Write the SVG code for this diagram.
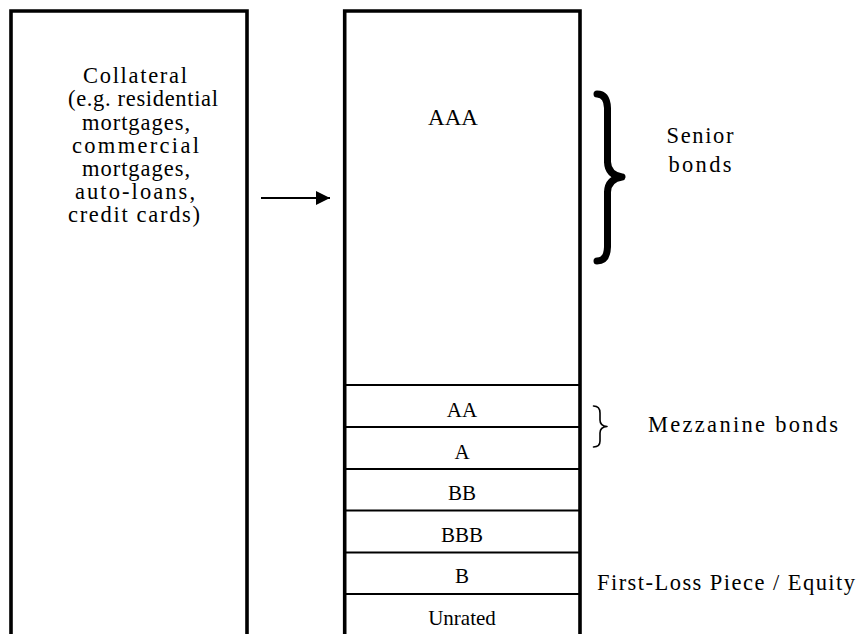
<svg xmlns="http://www.w3.org/2000/svg" width="859" height="634" viewBox="0 0 859 634">
<style>
.frame{fill:none;stroke:#000;stroke-width:3.6}
.tr{stroke:#000;stroke-width:2}
.g{font-family:"Liberation Serif","Times New Roman",serif;font-size:22.5px;fill:#000;text-anchor:middle}
.t{font-family:"Liberation Serif","Times New Roman",serif;font-size:21px;fill:#000;text-anchor:middle}
.br{fill:none;stroke:#000;stroke-linecap:round;stroke-linejoin:round}
</style>
<defs>
<marker id="ah" viewBox="0 0 14 14" refX="14" refY="7" markerWidth="14" markerHeight="14" markerUnits="userSpaceOnUse" orient="auto">
<path d="M0,0 L14,7 L0,14 Z" fill="#000"/>
</marker>
</defs>
<rect width="859" height="634" fill="#fff"/>
<g id="collateral">
<path class="frame" d="M11,640 V11 H247 V640"/>
<text class="g" x="135" y="83" textLength="104" lengthAdjust="spacing">Collateral</text>
<text class="g" x="143" y="106" textLength="150" lengthAdjust="spacing">(e.g. residential</text>
<text class="g" x="136" y="129.5" textLength="108" lengthAdjust="spacing">mortgages,</text>
<text class="g" x="135.5" y="152.5" textLength="127" lengthAdjust="spacing">commercial</text>
<text class="g" x="136" y="175.5" textLength="108" lengthAdjust="spacing">mortgages,</text>
<text class="g" x="135" y="199" textLength="120" lengthAdjust="spacing">auto-loans,</text>
<text class="g" x="134" y="222" textLength="132" lengthAdjust="spacing">credit cards)</text>
</g>
<g id="tranches">
<path class="frame" d="M344.7,640 V11 H580 V640"/>
<line class="tr" x1="344.7" y1="385" x2="580" y2="385"/>
<line class="tr" x1="344.7" y1="427" x2="580" y2="427"/>
<line class="tr" x1="344.7" y1="469" x2="580" y2="469"/>
<line class="tr" x1="344.7" y1="510.5" x2="580" y2="510.5"/>
<line class="tr" x1="344.7" y1="552.5" x2="580" y2="552.5"/>
<line class="tr" x1="344.7" y1="594" x2="580" y2="594"/>
<text class="t" x="453" y="125" style="font-size:23px">AAA</text>
<text class="t" x="462" y="417">AA</text>
<text class="t" x="462" y="459">A</text>
<text class="t" x="462" y="500">BB</text>
<text class="t" x="462" y="542">BBB</text>
<text class="t" x="462" y="583">B</text>
<text class="t" x="462" y="625">Unrated</text>
</g>
<g id="senior">
<path class="br" stroke-width="7" d="M597,94 Q607,94 607.5,108 L607.5,162 Q608,175 622,177 Q608,179 607.5,192 L607.5,247 Q607,261 597,261"/>
<text class="g" x="700" y="143" textLength="67" lengthAdjust="spacing">Senior</text>
<text class="g" x="700" y="172" textLength="63" lengthAdjust="spacing">bonds</text>
</g>
<g id="mezzanine">
<path class="br" stroke-width="1.6" d="M593.5,406 Q600,406 600,413 L600,420 Q600,426 607,426.5 Q600,427 600,433 L600,441 Q600,447 593.5,447"/>
<text class="g" x="743" y="432" textLength="190" lengthAdjust="spacing">Mezzanine bonds</text>
</g>
<g id="equity">
<text class="g" x="726" y="590" textLength="258" lengthAdjust="spacing">First-Loss Piece / Equity</text>
</g>
<g id="connectors">
<line x1="261" y1="198" x2="330" y2="198" stroke="#000" stroke-width="2" marker-end="url(#ah)"/>
</g>
</svg>
